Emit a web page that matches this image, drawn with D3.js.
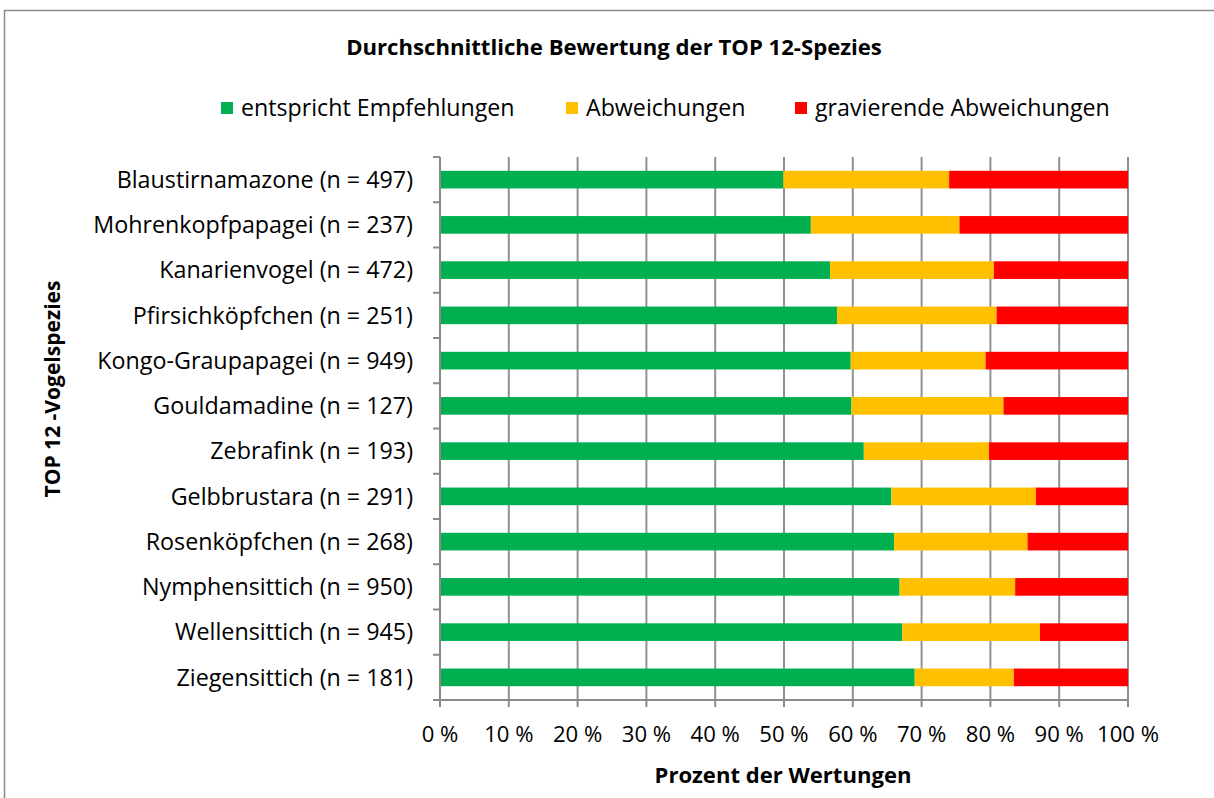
<!DOCTYPE html>
<html><head><meta charset="utf-8">
<script src="https://cdn.jsdelivr.net/npm/d3@7"></script>
<style>body{margin:0;background:#fff}svg{display:block}text{font-family:"Open Sans",sans-serif;fill:#000}</style>
</head><body><svg id="c" width="1214" height="798"></svg>
<script>
const categories = ["Blaustirnamazone (n = 497)","Mohrenkopfpapagei (n = 237)","Kanarienvogel (n = 472)","Pfirsichköpfchen (n = 251)","Kongo-Graupapagei (n = 949)","Gouldamadine (n = 127)","Zebrafink (n = 193)","Gelbbrustara (n = 291)","Rosenköpfchen (n = 268)","Nymphensittich (n = 950)","Wellensittich (n = 945)","Ziegensittich (n = 181)"];
const seriesNames = ["entspricht Empfehlungen","Abweichungen","gravierende Abweichungen"];
const entspricht = [49.9,53.9,56.7,57.7,59.7,59.8,61.6,65.6,66.0,66.8,67.2,69.0];
const abweichungen = [24.1,21.6,23.8,23.2,19.6,22.1,18.2,21.0,19.4,16.8,20.0,14.4];
const gravierend = [26.0,24.5,19.5,19.1,20.7,18.1,20.2,13.4,14.6,16.4,12.8,16.6];
const colors = ["#00B050","#FFC000","#FF0000"];
const xTicks = [0,10,20,30,40,50,60,70,80,90,100];

const svg = d3.select("#c");
const L=440,R=1128,T=157,B=700;
function fit(sel, target){ // scale font so the widest text matches target width
  let m=0; sel.each(function(){m=Math.max(m,this.getComputedTextLength());});
  const s=parseFloat(sel.attr("font-size"));
  sel.attr("font-size", s*target/m);
}
svg.append("rect").attr("x",4.5).attr("y",10.5).attr("width",1260).attr("height",900).attr("fill","none").attr("stroke","#8a8a8a").attr("stroke-width",1.5);

const x = d3.scaleLinear().domain([0,100]).range([L,R]);
const y = d3.scaleBand().domain(categories).range([T,B]).paddingInner(0.61).paddingOuter(0.305);
const yb = d3.scaleBand().domain(categories).range([T,B]);

svg.append("g").selectAll("line").data(xTicks.slice(1)).join("line")
 .attr("x1",d=>x(d)).attr("x2",d=>x(d)).attr("y1",T).attr("y2",B)
 .attr("stroke","#929292").attr("stroke-width",2);

const rows = categories.map((c,i)=>({c, v:[entspricht[i],abweichungen[i],gravierend[i]]}));
const stack = d3.stack().keys([0,1,2]).value((d,k)=>d.v[k]);
const layers = stack(rows);
svg.append("g").selectAll("g").data(layers).join("g").attr("fill",(d,i)=>colors[i])
 .selectAll("rect").data(d=>d).join("rect")
 .attr("x",d=>x(d[0])).attr("width",d=>x(d[1])-x(d[0]))
 .attr("y",d=>y(d.data.c)).attr("height",y.bandwidth());

const ya = svg.append("g").attr("transform",`translate(${L},0)`);
ya.append("line").attr("x1",0).attr("x2",0).attr("y1",T).attr("y2",B).attr("stroke","#8a8a8a").attr("stroke-width",2);
const bounds = categories.map(c=>yb(c)).concat([B]);
ya.selectAll("line.t").data(bounds).join("line").attr("class","t")
 .attr("x1",-7).attr("x2",0).attr("y1",d=>d).attr("y2",d=>d).attr("stroke","#8a8a8a").attr("stroke-width",2);
const yl = ya.selectAll("text").data(categories).join("text")
 .attr("x",-27).attr("y",d=>yb(d)+yb.bandwidth()/2).attr("dy","0.35em")
 .attr("text-anchor","end").attr("font-size",20).text(d=>d);
fit(yl,320);

const xa = svg.append("g");
xa.append("line").attr("x1",L-7).attr("x2",R).attr("y1",B).attr("y2",B).attr("stroke","#8a8a8a").attr("stroke-width",2);
xa.selectAll("line.t").data(xTicks).join("line").attr("class","t")
 .attr("x1",d=>x(d)).attr("x2",d=>x(d)).attr("y1",B).attr("y2",B+7).attr("stroke","#8a8a8a").attr("stroke-width",2);
const xl = xa.selectAll("text").data(xTicks).join("text")
 .attr("x",d=>x(d)).attr("y",734).attr("dy","0.35em").attr("text-anchor","middle").attr("font-size",20).text(d=>d+" %");
fit(xl,62);

const t1 = svg.append("text").attr("x",614).attr("y",47).attr("dy","0.35em").attr("text-anchor","middle").attr("font-size",18).attr("font-weight","bold").text("Durchschnittliche Bewertung der TOP 12-Spezies");
fit(t1,536);
const t2 = svg.append("text").attr("x",783).attr("y",775).attr("dy","0.35em").attr("text-anchor","middle").attr("font-size",18).attr("font-weight","bold").text("Prozent der Wertungen");
fit(t2,257);
const t3 = svg.append("text").attr("transform","translate(53,389) rotate(-90)").attr("dy","0.35em").attr("text-anchor","middle").attr("font-size",18).attr("font-weight","bold").text("TOP 12 -Vogelspezies");
fit(t3,217);

const legX = [221,566,795];
const lg = svg.append("g").selectAll("g").data(seriesNames).join("g").attr("transform",(d,i)=>`translate(${legX[i]},108)`);
lg.append("rect").attr("x",0).attr("y",-6).attr("width",12).attr("height",12).attr("fill",(d,i)=>colors[i]);
const lt = lg.append("text").attr("x",20).attr("y",0).attr("dy","0.35em").attr("font-size",20).text(d=>d);
fit(lt,295);
</script></body></html>
